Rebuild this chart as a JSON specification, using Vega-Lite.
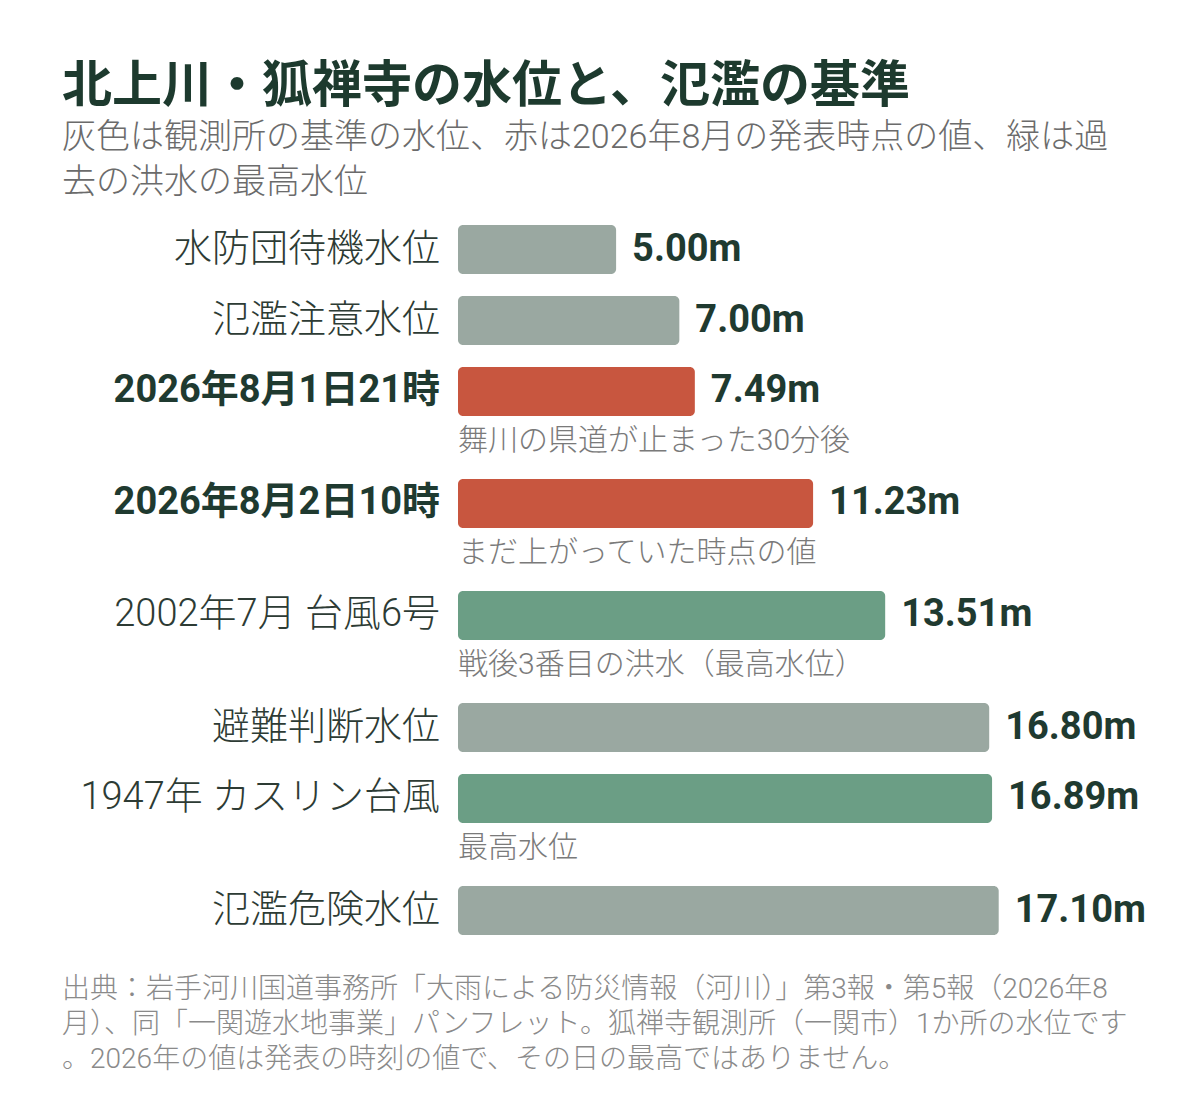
{
  "$schema": "https://vega.github.io/schema/vega-lite/v6.json",
  "background": "white",
  "padding": {"left": 62, "top": 62, "right": 0, "bottom": 10},
  "data": {"values": [
    {"label": "水防団待機水位", "value": 5.00, "kind": "基準", "note": ""},
    {"label": "氾濫注意水位", "value": 7.00, "kind": "基準", "note": ""},
    {"label": "2026年8月1日21時", "value": 7.49, "kind": "2026年", "note": "舞川の県道が止まった30分後"},
    {"label": "2026年8月2日10時", "value": 11.23, "kind": "2026年", "note": "まだ上がっていた時点の値"},
    {"label": "2002年7月 台風6号", "value": 13.51, "kind": "過去の洪水", "note": "戦後3番目の洪水（最高水位）"},
    {"label": "避難判断水位", "value": 16.80, "kind": "基準", "note": ""},
    {"label": "1947年 カスリン台風", "value": 16.89, "kind": "過去の洪水", "note": "最高水位"},
    {"label": "氾濫危険水位", "value": 17.10, "kind": "基準", "note": ""}
  ]},
  "title": {
    "text": "北上川・狐禅寺の水位と、氾濫の基準",
    "subtitle": ["灰色は観測所の基準の水位、赤は2026年8月の発表時点の値、緑は過", "去の洪水の最高水位"],
    "anchor": "start",
    "frame": "group",
    "font": "Roboto, Noto Sans CJK JP",
    "fontSize": 50,
    "fontWeight": "bold",
    "color": "#1d3a2e",
    "subtitleFont": "Roboto, Noto Sans CJK JP",
    "subtitleFontSize": 34,
    "subtitleFontWeight": 300,
    "subtitleColor": "#6b6b6b",
    "subtitleLineHeight": 45,
    "subtitlePadding": 9,
    "offset": 14
  },
  "spacing": 0,
  "resolve": {"scale": {"x": "independent", "y": "independent", "color": "independent"}},
  "vconcat": [
    {
      "width": 1088, "height": 71,
      "transform": [{"filter": "datum.label === '水防団待機水位'"}],
      "encoding": {"y": {"field": "label", "type": "nominal", "axis": null, "scale": {"paddingInner": 0.31, "paddingOuter": 0.155}}},
      "layer": [
        {"mark": {"type": "bar", "cornerRadius": 5}, "encoding": {"x": {"field": "value", "type": "quantitative", "axis": null, "scale": {"domain": [-12.524, 21.885], "nice": false, "zero": false}}, "x2": {"datum": 0}, "color": {"field": "kind", "type": "nominal", "legend": null, "scale": {"domain": ["基準", "2026年", "過去の洪水"], "range": ["#9aa8a1", "#c8563f", "#6b9e85"]}}}},
        {"mark": {"type": "text", "align": "right", "baseline": "middle", "dx": -18, "fontSize": 38, "fontWeight": 300, "color": "#2d3b34"}, "encoding": {"x": {"datum": 0}, "text": {"field": "label"}}},
        {"mark": {"type": "text", "align": "left", "baseline": "middle", "dx": 16, "fontSize": 38, "fontWeight": "bold", "color": "#1f3a30", "text": {"expr": "format(datum.value, '.2f') + 'm'"}}, "encoding": {"x": {"field": "value", "type": "quantitative"}}}
      ]
    },
    {
      "width": 1088, "height": 71,
      "transform": [{"filter": "datum.label === '氾濫注意水位'"}],
      "encoding": {"y": {"field": "label", "type": "nominal", "axis": null, "scale": {"paddingInner": 0.31, "paddingOuter": 0.155}}},
      "layer": [
        {"mark": {"type": "bar", "cornerRadius": 5}, "encoding": {"x": {"field": "value", "type": "quantitative", "axis": null, "scale": {"domain": [-12.524, 21.885], "nice": false, "zero": false}}, "x2": {"datum": 0}, "color": {"field": "kind", "type": "nominal", "legend": null, "scale": {"domain": ["基準", "2026年", "過去の洪水"], "range": ["#9aa8a1", "#c8563f", "#6b9e85"]}}}},
        {"mark": {"type": "text", "align": "right", "baseline": "middle", "dx": -18, "fontSize": 38, "fontWeight": 300, "color": "#2d3b34"}, "encoding": {"x": {"datum": 0}, "text": {"field": "label"}}},
        {"mark": {"type": "text", "align": "left", "baseline": "middle", "dx": 16, "fontSize": 38, "fontWeight": "bold", "color": "#1f3a30", "text": {"expr": "format(datum.value, '.2f') + 'm'"}}, "encoding": {"x": {"field": "value", "type": "quantitative"}}}
      ]
    },
    {
      "width": 1088, "height": 112,
      "transform": [{"filter": "datum.label === '2026年8月1日21時'"}],
      "encoding": {"y": {"field": "label", "type": "nominal", "axis": null, "scale": {"paddingInner": 0, "paddingOuter": 0.6429, "align": 0.1746}}},
      "layer": [
        {"mark": {"type": "bar", "cornerRadius": 5}, "encoding": {"x": {"field": "value", "type": "quantitative", "axis": null, "scale": {"domain": [-12.524, 21.885], "nice": false, "zero": false}}, "x2": {"datum": 0}, "color": {"field": "kind", "type": "nominal", "legend": null, "scale": {"domain": ["基準", "2026年", "過去の洪水"], "range": ["#9aa8a1", "#c8563f", "#6b9e85"]}}}},
        {"mark": {"type": "text", "align": "right", "baseline": "middle", "dx": -18, "fontSize": 38, "fontWeight": "bold", "color": "#1f3a30"}, "encoding": {"x": {"datum": 0}, "text": {"field": "label"}}},
        {"mark": {"type": "text", "align": "left", "baseline": "middle", "dx": 16, "fontSize": 38, "fontWeight": "bold", "color": "#1f3a30", "text": {"expr": "format(datum.value, '.2f') + 'm'"}}, "encoding": {"x": {"field": "value", "type": "quantitative"}}},
        {"mark": {"type": "text", "align": "left", "baseline": "middle", "dy": 50, "fontSize": 30, "fontWeight": 300, "color": "#7a7a7a"}, "encoding": {"x": {"datum": 0}, "text": {"field": "note"}}}
      ]
    },
    {
      "width": 1088, "height": 112,
      "transform": [{"filter": "datum.label === '2026年8月2日10時'"}],
      "encoding": {"y": {"field": "label", "type": "nominal", "axis": null, "scale": {"paddingInner": 0, "paddingOuter": 0.6429, "align": 0.1746}}},
      "layer": [
        {"mark": {"type": "bar", "cornerRadius": 5}, "encoding": {"x": {"field": "value", "type": "quantitative", "axis": null, "scale": {"domain": [-12.524, 21.885], "nice": false, "zero": false}}, "x2": {"datum": 0}, "color": {"field": "kind", "type": "nominal", "legend": null, "scale": {"domain": ["基準", "2026年", "過去の洪水"], "range": ["#9aa8a1", "#c8563f", "#6b9e85"]}}}},
        {"mark": {"type": "text", "align": "right", "baseline": "middle", "dx": -18, "fontSize": 38, "fontWeight": "bold", "color": "#1f3a30"}, "encoding": {"x": {"datum": 0}, "text": {"field": "label"}}},
        {"mark": {"type": "text", "align": "left", "baseline": "middle", "dx": 16, "fontSize": 38, "fontWeight": "bold", "color": "#1f3a30", "text": {"expr": "format(datum.value, '.2f') + 'm'"}}, "encoding": {"x": {"field": "value", "type": "quantitative"}}},
        {"mark": {"type": "text", "align": "left", "baseline": "middle", "dy": 50, "fontSize": 30, "fontWeight": 300, "color": "#7a7a7a"}, "encoding": {"x": {"datum": 0}, "text": {"field": "note"}}}
      ]
    },
    {
      "width": 1088, "height": 112,
      "transform": [{"filter": "datum.label === '2002年7月 台風6号'"}],
      "encoding": {"y": {"field": "label", "type": "nominal", "axis": null, "scale": {"paddingInner": 0, "paddingOuter": 0.6429, "align": 0.1746}}},
      "layer": [
        {"mark": {"type": "bar", "cornerRadius": 5}, "encoding": {"x": {"field": "value", "type": "quantitative", "axis": null, "scale": {"domain": [-12.524, 21.885], "nice": false, "zero": false}}, "x2": {"datum": 0}, "color": {"field": "kind", "type": "nominal", "legend": null, "scale": {"domain": ["基準", "2026年", "過去の洪水"], "range": ["#9aa8a1", "#c8563f", "#6b9e85"]}}}},
        {"mark": {"type": "text", "align": "right", "baseline": "middle", "dx": -18, "fontSize": 38, "fontWeight": 300, "color": "#2d3b34"}, "encoding": {"x": {"datum": 0}, "text": {"field": "label"}}},
        {"mark": {"type": "text", "align": "left", "baseline": "middle", "dx": 16, "fontSize": 38, "fontWeight": "bold", "color": "#1f3a30", "text": {"expr": "format(datum.value, '.2f') + 'm'"}}, "encoding": {"x": {"field": "value", "type": "quantitative"}}},
        {"mark": {"type": "text", "align": "left", "baseline": "middle", "dy": 50, "fontSize": 30, "fontWeight": 300, "color": "#7a7a7a"}, "encoding": {"x": {"datum": 0}, "text": {"field": "note"}}}
      ]
    },
    {
      "width": 1088, "height": 71,
      "transform": [{"filter": "datum.label === '避難判断水位'"}],
      "encoding": {"y": {"field": "label", "type": "nominal", "axis": null, "scale": {"paddingInner": 0.31, "paddingOuter": 0.155}}},
      "layer": [
        {"mark": {"type": "bar", "cornerRadius": 5}, "encoding": {"x": {"field": "value", "type": "quantitative", "axis": null, "scale": {"domain": [-12.524, 21.885], "nice": false, "zero": false}}, "x2": {"datum": 0}, "color": {"field": "kind", "type": "nominal", "legend": null, "scale": {"domain": ["基準", "2026年", "過去の洪水"], "range": ["#9aa8a1", "#c8563f", "#6b9e85"]}}}},
        {"mark": {"type": "text", "align": "right", "baseline": "middle", "dx": -18, "fontSize": 38, "fontWeight": 300, "color": "#2d3b34"}, "encoding": {"x": {"datum": 0}, "text": {"field": "label"}}},
        {"mark": {"type": "text", "align": "left", "baseline": "middle", "dx": 16, "fontSize": 38, "fontWeight": "bold", "color": "#1f3a30", "text": {"expr": "format(datum.value, '.2f') + 'm'"}}, "encoding": {"x": {"field": "value", "type": "quantitative"}}}
      ]
    },
    {
      "width": 1088, "height": 112,
      "transform": [{"filter": "datum.label === '1947年 カスリン台風'"}],
      "encoding": {"y": {"field": "label", "type": "nominal", "axis": null, "scale": {"paddingInner": 0, "paddingOuter": 0.6429, "align": 0.1746}}},
      "layer": [
        {"mark": {"type": "bar", "cornerRadius": 5}, "encoding": {"x": {"field": "value", "type": "quantitative", "axis": null, "scale": {"domain": [-12.524, 21.885], "nice": false, "zero": false}}, "x2": {"datum": 0}, "color": {"field": "kind", "type": "nominal", "legend": null, "scale": {"domain": ["基準", "2026年", "過去の洪水"], "range": ["#9aa8a1", "#c8563f", "#6b9e85"]}}}},
        {"mark": {"type": "text", "align": "right", "baseline": "middle", "dx": -18, "fontSize": 38, "fontWeight": 300, "color": "#2d3b34"}, "encoding": {"x": {"datum": 0}, "text": {"field": "label"}}},
        {"mark": {"type": "text", "align": "left", "baseline": "middle", "dx": 16, "fontSize": 38, "fontWeight": "bold", "color": "#1f3a30", "text": {"expr": "format(datum.value, '.2f') + 'm'"}}, "encoding": {"x": {"field": "value", "type": "quantitative"}}},
        {"mark": {"type": "text", "align": "left", "baseline": "middle", "dy": 50, "fontSize": 30, "fontWeight": 300, "color": "#7a7a7a"}, "encoding": {"x": {"datum": 0}, "text": {"field": "note"}}}
      ]
    },
    {
      "width": 1088, "height": 71,
      "transform": [{"filter": "datum.label === '氾濫危険水位'"}],
      "title": {
        "text": ["出典：岩手河川国道事務所「大雨による防災情報（河川）」第3報・第5報（2026年8", "月）、同「一関遊水地事業」パンフレット。狐禅寺観測所（一関市）1か所の水位です", "。2026年の値は発表の時刻の値で、その日の最高ではありません。"],
        "orient": "bottom",
        "anchor": "start",
        "frame": "group",
        "font": "Roboto, Noto Sans CJK JP",
        "fontSize": 28,
        "fontWeight": 300,
        "color": "#8a8a8a",
        "lineHeight": 35,
        "offset": 30
      },
      "encoding": {"y": {"field": "label", "type": "nominal", "axis": null, "scale": {"paddingInner": 0.31, "paddingOuter": 0.155}}},
      "layer": [
        {"mark": {"type": "bar", "cornerRadius": 5}, "encoding": {"x": {"field": "value", "type": "quantitative", "axis": null, "scale": {"domain": [-12.524, 21.885], "nice": false, "zero": false}}, "x2": {"datum": 0}, "color": {"field": "kind", "type": "nominal", "legend": null, "scale": {"domain": ["基準", "2026年", "過去の洪水"], "range": ["#9aa8a1", "#c8563f", "#6b9e85"]}}}},
        {"mark": {"type": "text", "align": "right", "baseline": "middle", "dx": -18, "fontSize": 38, "fontWeight": 300, "color": "#2d3b34"}, "encoding": {"x": {"datum": 0}, "text": {"field": "label"}}},
        {"mark": {"type": "text", "align": "left", "baseline": "middle", "dx": 16, "fontSize": 38, "fontWeight": "bold", "color": "#1f3a30", "text": {"expr": "format(datum.value, '.2f') + 'm'"}}, "encoding": {"x": {"field": "value", "type": "quantitative"}}}
      ]
    }
  ],
  "config": {
    "view": {"stroke": null},
    "font": "Roboto, Noto Sans CJK JP",
    "text": {"font": "Roboto, Noto Sans CJK JP"},
    "concat": {"spacing": 0}
  }
}
